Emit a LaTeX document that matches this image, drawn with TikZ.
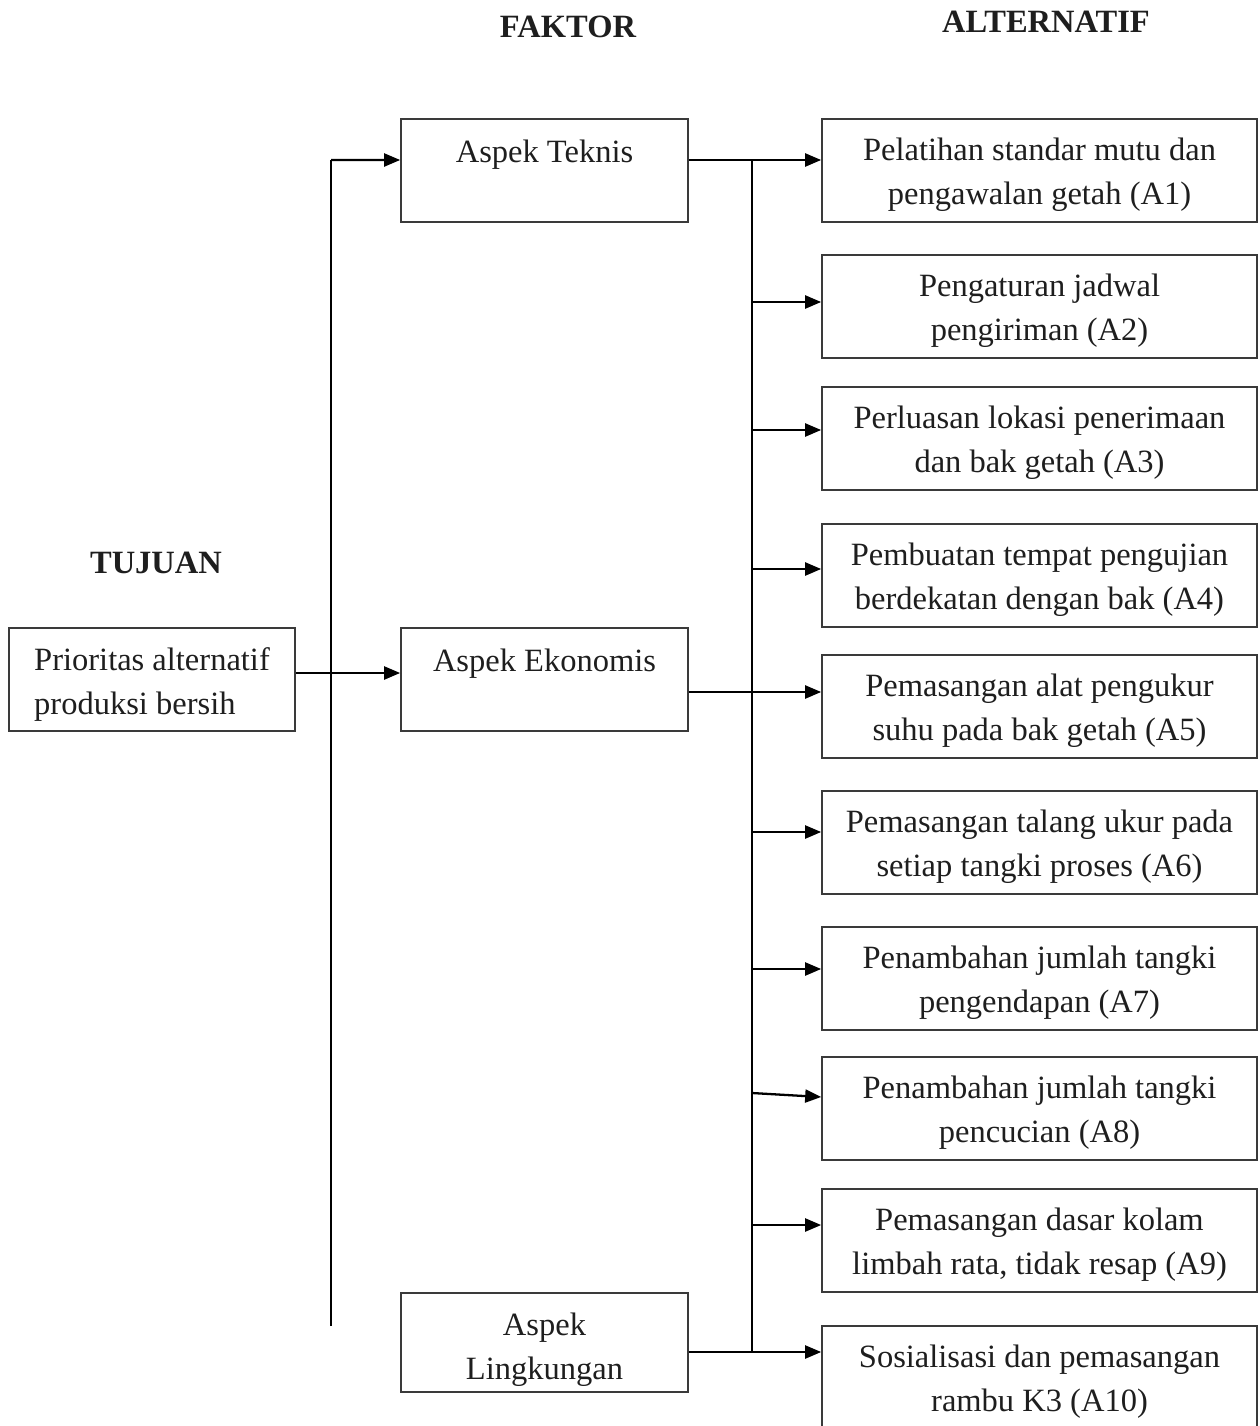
\documentclass[tikz,border=0pt]{standalone}
\usepackage{fontspec}
\setmainfont{Liberation Serif}
\usepackage{tikz}
\usetikzlibrary{arrows.meta, positioning, calc}
\usepackage{xcolor}
\definecolor{HierBlack}{HTML}{000000}
\definecolor{HierFrame}{HTML}{3A3A3A}
\definecolor{HierText}{HTML}{1E1E1E}
\tikzset{
    % Box styles - all sharp corners
    goalbox/.style={
        rectangle,
        draw=HierFrame,
        line width=1pt,
        minimum width=5.72cm,
        inner ysep=0pt,
        text height=1.73cm,
        text depth=0.33cm,
        align=left,
        text=HierText,
        font=\fontsize{18.5}{25}\selectfont
    },
    factorbox/.style={
        rectangle,
        draw=HierFrame,
        line width=1pt,
        minimum width=5.74cm,
        inner ysep=0pt,
        text height=0.86cm,
        text depth=1.2cm,
        align=center,
        text=HierText,
        font=\fontsize{18.5}{25}\selectfont
    },
    factorboxtwo/.style={
        rectangle,
        draw=HierFrame,
        line width=1pt,
        minimum width=5.74cm,
        inner ysep=0pt,
        text height=1.73cm,
        text depth=0.25cm,
        align=center,
        text=HierText,
        font=\fontsize{18.5}{25}\selectfont
    },
    altbox/.style={
        rectangle,
        draw=HierFrame,
        line width=1pt,
        minimum width=8.7cm,
        inner ysep=0pt,
        text height=1.71cm,
        text depth=0.35cm,
        align=center,
        text=HierText,
        font=\fontsize{18.5}{25}\selectfont
    },
    heading/.style={
        font=\fontsize{18.5}{25}\selectfont\bfseries,
        text=HierText,
        inner sep=0pt
    },
    % Connector styles - straight lines only
    arrow/.style={
        -{Triangle[length=0.32cm, width=0.26cm]},
        line width=1.3pt,
        draw=HierBlack
    },
    trunk/.style={
        line width=1.3pt,
        draw=HierBlack
    }
}
\begin{document}
\begin{tikzpicture}[x=0.02cm, y=-0.02cm]
    \useasboundingbox (0,0) rectangle (1259,1426);

    % column headings
    \node[heading] (hfaktor) at (568,27) {FAKTOR};
    \node[heading] (halt) at (1046,22) {ALTERNATIF};
    \node[heading] (htujuan) at (156,563) {TUJUAN};

    % goal
    \node[goalbox] (goal) at (152,679.5) {Prioritas alternatif\\produksi bersih};

    % factors
    \node[factorbox] (teknis) at (544.5,170.5) {Aspek Teknis};
    \node[factorbox] (ekonomis) at (544.5,679.5) {Aspek Ekonomis};
    \node[factorboxtwo] (lingkungan) at (544.5,1342.5) {Aspek\\Lingkungan};

    % alternatives
    \node[altbox] (a1) at (1039.5,170.5) {Pelatihan standar mutu dan\\pengawalan getah (A1)};
    \node[altbox] (a2) at (1039.5,306.5) {Pengaturan jadwal\\pengiriman (A2)};
    \node[altbox] (a3) at (1039.5,438.5) {Perluasan lokasi penerimaan\\dan bak getah (A3)};
    \node[altbox] (a4) at (1039.5,575.5) {Pembuatan tempat pengujian\\berdekatan dengan bak (A4)};
    \node[altbox] (a5) at (1039.5,706.5) {Pemasangan alat pengukur\\suhu pada bak getah (A5)};
    \node[altbox] (a6) at (1039.5,842.5) {Pemasangan talang ukur pada\\setiap tangki proses (A6)};
    \node[altbox] (a7) at (1039.5,978.5) {Penambahan jumlah tangki\\pengendapan (A7)};
    \node[altbox] (a8) at (1039.5,1108.5) {Penambahan jumlah tangki\\pencucian (A8)};
    \node[altbox] (a9) at (1039.5,1240.5) {Pemasangan dasar kolam\\limbah rata, tidak resap (A9)};
    \node[altbox] (a10) at (1039.5,1377.5) {Sosialisasi dan pemasangan\\rambu K3 (A10)};

    % left trunk: goal to factors
    \coordinate (ltop) at (331,160);
    \coordinate (lbot) at (331,1326);
    \draw[trunk] (lbot) -- (ltop);
    \draw[arrow] (ltop) -- ([yshift=0.21cm]teknis.west);
    \draw[arrow] ([yshift=0.13cm]goal.east) -- ([yshift=0.13cm]goal.east -| ekonomis.west);

    % right trunk: factors to alternatives
    \coordinate (rtop) at (752,160);
    \coordinate (rbot) at (752,1352);
    \draw[trunk] (rtop) -- (rbot);
    \draw[arrow] ([yshift=0.21cm]teknis.east) -- ([yshift=0.21cm]a1.west);
    \draw[arrow] ([yshift=-0.25cm]ekonomis.east) -- ([yshift=-0.25cm]ekonomis.east -| a5.west);
    \draw[arrow] ([yshift=-0.19cm]lingkungan.east) -- ([yshift=-0.19cm]lingkungan.east -| a10.west);

    \draw[arrow] ([yshift=0.09cm]a2.west -| rtop) -- ([yshift=0.09cm]a2.west);
    \draw[arrow] ([yshift=0.17cm]a3.west -| rtop) -- ([yshift=0.17cm]a3.west);
    \draw[arrow] ([yshift=0.13cm]a4.west -| rtop) -- ([yshift=0.13cm]a4.west);
    \draw[arrow] ([yshift=0.21cm]a6.west -| rtop) -- ([yshift=0.21cm]a6.west);
    \draw[arrow] ([yshift=0.19cm]a7.west -| rtop) -- ([yshift=0.19cm]a7.west);
    \draw[arrow] ([yshift=0.31cm]a8.west -| rtop) -- ([yshift=0.23cm]a8.west);
    \draw[arrow] ([yshift=0.31cm]a9.west -| rtop) -- ([yshift=0.31cm]a9.west);
\end{tikzpicture}
\end{document}
